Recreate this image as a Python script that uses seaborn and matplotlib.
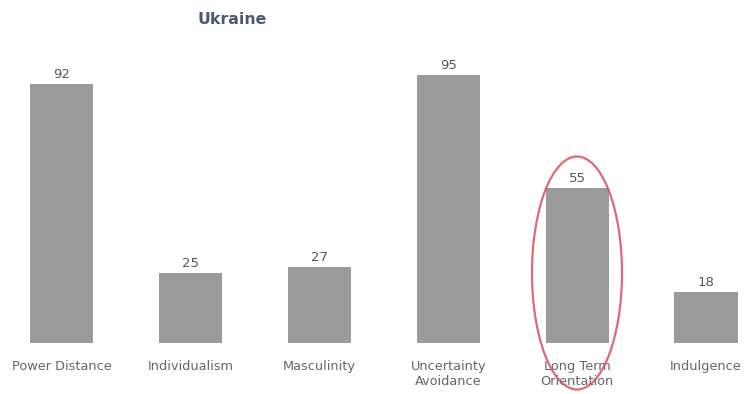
import matplotlib
matplotlib.use("Agg")
import matplotlib.pyplot as plt
from matplotlib.patches import Ellipse
import seaborn as sns
import pandas as pd

categories = ["Power Distance", "Individualism", "Masculinity",
              "Uncertainty\nAvoidance", "Long Term\nOrientation", "Indulgence"]
scores = [92, 25, 27, 95, 55, 18]
country = "Ukraine"

df = pd.DataFrame({"dimension": categories, "score": scores})

sns.set_theme(style="white")
plt.rcParams["font.family"] = ["DejaVu Sans"]

fig = plt.figure(figsize=(7.46, 3.94), dpi=100)
ax = fig.add_axes([0, 51 / 394, 1, 282 / 394])

sns.barplot(data=df, x="dimension", y="score", color="#9b9b9b",
            saturation=1, width=0.49, ax=ax)
for p in ax.patches:
    p.set_edgecolor("none")

ax.set_xlim(-0.477, 5.31)
ax.set_ylim(0, 100)

for i, v in enumerate(scores):
    ax.annotate(str(v), (i, v), xytext=(0, 2), textcoords="offset points",
                ha="center", va="bottom", fontsize=9.5, color="#555555")

ax.set_xlabel("")
ax.set_ylabel("")
ax.set_yticks([])
ax.tick_params(axis="x", length=0, pad=12, labelsize=9.3, labelcolor="#666666")
for s in ax.spines.values():
    s.set_visible(False)

fig.text(232 / 746, 1 - 19 / 394, country, ha="center", va="center",
         fontsize=11.3, fontweight="bold", color="#4a5a6e")

# Red marker ring around the long term orientation bar
ring = Ellipse((577 / 746, 1 - 273 / 394), 90 / 746, 233 / 394,
               transform=fig.transFigure, fill=False,
               edgecolor="#d9505c", linewidth=1.6, alpha=0.85)
fig.add_artist(ring)

fig.savefig("out.png", dpi=100, facecolor="white")
